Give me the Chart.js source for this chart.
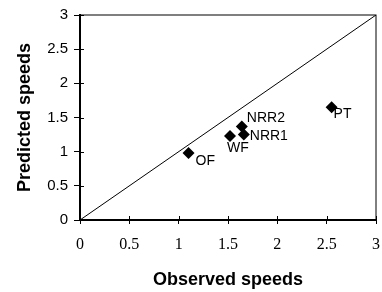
<!DOCTYPE html>
<html>
<head>
<meta charset="utf-8">
<script src="https://cdn.jsdelivr.net/npm/chart.js@4.4.0/dist/chart.umd.min.js"></script>
<style>
  html, body { margin: 0; padding: 0; background: #fff; }
  #wrap { width: 382px; height: 292px; }
</style>
</head>
<body>
<div id="wrap"><canvas id="myChart"></canvas></div>
<script>
// data
let siteNames = ['OF', 'WF', 'NRR1', 'NRR2', 'PT'];
let observed = [1.10, 1.52, 1.66, 1.64, 2.55];
let predicted = [0.98, 1.23, 1.25, 1.37, 1.65];
let lineX = [0, 3];
let lineY = [0, 3];
let tickValues = [0, 0.5, 1, 1.5, 2, 2.5, 3];
let tickLabels = ['0', '0.5', '1', '1.5', '2', '2.5', '3'];

// where each name sits relative to its marker (pixels)
let labelOffsets = [[7, 8], [-3, 12], [6, 2], [5, -8], [2, 7]];

let points = observed.map(function(x, i) { return { x: x, y: predicted[i] }; });
let diagonal = lineX.map(function(x, i) { return { x: x, y: lineY[i] }; });

function tickText(value) {
  let i = tickValues.indexOf(value);
  return i >= 0 ? tickLabels[i] : '';
}

// names next to markers, inner tick marks and the thin box round the plot
let extras = {
  id: 'extras',
  afterDatasetsDraw(chart) {
    let ctx = chart.ctx;
    let area = chart.chartArea;
    let xs = chart.scales.x;
    let ys = chart.scales.y;
    ctx.save();
    ctx.strokeStyle = '#000';
    ctx.lineWidth = 1;
    ctx.strokeRect(area.left, area.top, area.right - area.left, area.bottom - area.top);
    ctx.beginPath();
    tickValues.forEach(function(v) {
      let px = Math.round(xs.getPixelForValue(v)) + 0.5;
      ctx.moveTo(px, area.bottom);
      ctx.lineTo(px, area.bottom - 4);
      let py = Math.round(ys.getPixelForValue(v)) + 0.5;
      ctx.moveTo(area.left, py);
      ctx.lineTo(area.left + 4, py);
    });
    ctx.stroke();

    ctx.fillStyle = '#000';
    ctx.font = '14px "Liberation Sans", Arial, sans-serif';
    ctx.textAlign = 'left';
    ctx.textBaseline = 'middle';
    siteNames.forEach(function(name, i) {
      let px = xs.getPixelForValue(observed[i]);
      let py = ys.getPixelForValue(predicted[i]);
      ctx.fillText(name, px + labelOffsets[i][0], py + labelOffsets[i][1]);
    });
    ctx.restore();
  }
};

let ctx = document.getElementById('myChart').getContext('2d');
let myChart = new Chart(ctx, {
  type: 'scatter',
  data: {
    datasets: [{
      data: diagonal,
      showLine: true,
      borderColor: '#000',
      borderWidth: 1,
      pointRadius: 0,
      fill: false
    }, {
      data: points,
      pointStyle: 'rectRot',
      pointRadius: 6,
      backgroundColor: '#000',
      borderColor: '#000',
      borderWidth: 0
    }]
  },
  options: {
    responsive: true,
    maintainAspectRatio: false,
    animation: false,
    layout: { padding: { top: 13, right: 2, left: 0, bottom: 0 } },
    plugins: {
      legend: { display: false },
      tooltip: { enabled: false }
    },
    scales: {
      x: {
        type: 'linear',
        min: 0,
        max: 3,
        afterFit: function(scale) {
          scale.height = 72;
          scale.paddingRight = 4;
        },
        afterBuildTicks: function(scale) {
          scale.ticks = tickValues.map(function(v) { return { value: v }; });
        },
        ticks: {
          color: '#000',
          padding: 11,
          maxRotation: 0,
          callback: tickText,
          font: { family: '"Liberation Serif", "Times New Roman", serif', size: 16 }
        },
        grid: { drawOnChartArea: false, tickLength: 4, color: '#000', lineWidth: 1 },
        border: { color: '#000', width: 2 },
        title: {
          display: true,
          text: 'Observed speeds',
          color: '#000',
          padding: { top: 0, bottom: 1 },
          font: { family: '"Liberation Sans", Arial, sans-serif', size: 18, weight: 'bold' }
        }
      },
      y: {
        type: 'linear',
        min: 0,
        max: 3,
        afterFit: function(scale) { scale.width = 80; },
        afterBuildTicks: function(scale) {
          scale.ticks = tickValues.map(function(v) { return { value: v }; });
        },
        ticks: {
          color: '#000',
          padding: 6,
          callback: tickText,
          font: { family: '"Liberation Sans", Arial, sans-serif', size: 15 }
        },
        grid: { drawOnChartArea: false, tickLength: 6, color: '#000', lineWidth: 1 },
        border: { color: '#000', width: 2 },
        title: {
          display: true,
          text: 'Predicted speeds',
          color: '#000',
          padding: { top: 14, bottom: 0 },
          font: { family: '"Liberation Sans", Arial, sans-serif', size: 18, weight: 'bold' }
        }
      }
    }
  },
  plugins: [extras]
});
</script>
</body>
</html>
